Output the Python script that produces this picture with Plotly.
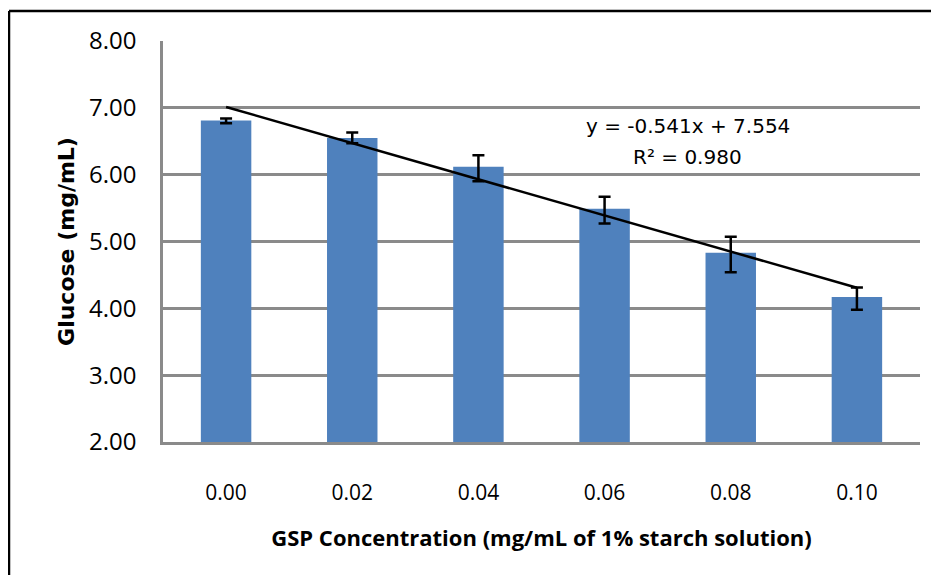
import plotly.graph_objects as go

categories = ["0.00", "0.02", "0.04", "0.06", "0.08", "0.10"]
glucose = [6.81, 6.55, 6.12, 5.49, 4.83, 4.17]
err_plus = [0.03, 0.08, 0.17, 0.18, 0.24, 0.14]
err_minus = [0.04, 0.08, 0.22, 0.22, 0.29, 0.19]
slope = -0.541
intercept = 7.554
r2 = 0.980
y_ticks = [2, 3, 4, 5, 6, 7, 8]

# page body adds an 8px margin; keep the figure fully inside the window
W, H = 923, 567
L, T = 155, 33
pw, ph = 757, 401
R, B = W - L - pw, H - T - ph

trend_y = [slope * (i + 1) + intercept for i in range(len(categories))]

fig = go.Figure()
fig.add_trace(go.Bar(
    x=categories, y=glucose, width=0.4,
    marker=dict(color="#4f81bd", line=dict(width=0)),
    error_y=dict(type="data", symmetric=False, array=err_plus, arrayminus=err_minus,
                 color="black", thickness=2.5, width=6),
    showlegend=False,
))
fig.add_trace(go.Scatter(
    x=categories, y=trend_y, mode="lines",
    line=dict(color="black", width=2.5), showlegend=False,
))

ann_font = dict(family="DejaVu Sans", size=20, color="black")
fig.add_annotation(x=0.6935, y=6.73, xref="paper", yref="y", xanchor="center",
                   text=f"y = {slope:.3f}x + {intercept:.3f}",
                   showarrow=False, font=ann_font)
fig.add_annotation(x=0.6935, y=6.27, xref="paper", yref="y", xanchor="center",
                   text=f"R² = {r2:.3f}",
                   showarrow=False, font=ann_font)

# outer chart border (top and left edges visible in the frame)
bx = (1 - L) / pw
by = 1 + (T - 3) / ph
fig.add_shape(type="line", xref="paper", yref="paper",
              x0=bx, x1=(W - L) / pw, y0=by, y1=by,
              line=dict(color="black", width=2.5), layer="above")
fig.add_shape(type="line", xref="paper", yref="paper",
              x0=bx, x1=bx, y0=by, y1=-(H - T - ph) / ph,
              line=dict(color="black", width=2.5), layer="above")

fig.update_layout(
    width=W, height=H,
    margin=dict(l=L, r=R, t=T, b=B),
    paper_bgcolor="white", plot_bgcolor="white",
    font=dict(family="Open Sans", size=18, color="black"),
    xaxis=dict(
        type="category", showgrid=False, showline=True, linecolor="#8a8a8a", linewidth=2.5,
        ticks="outside", ticklen=0, ticklabelstandoff=30,
        tickfont=dict(family="Open Sans", size=21),
        title=dict(text="<b>GSP Concentration (mg/mL of 1% starch solution)</b>",
                   font=dict(family="Open Sans", size=22), standoff=26),
    ),
    yaxis=dict(
        range=[2, 8], tickvals=y_ticks, tickformat=".2f",
        showgrid=True, gridcolor="#8a8a8a", gridwidth=2.5,
        showline=True, linecolor="#8a8a8a", linewidth=2.5, zeroline=False,
        ticks="outside", ticklen=0, ticklabelstandoff=19,
        tickfont=dict(family="Open Sans", size=24),
        title=dict(text="<b>Glucose (mg/mL)</b>",
                   font=dict(family="DejaVu Sans", size=22), standoff=9),
    ),
)

fig.write_html(
    "out.html",
    post_script="document.documentElement.style.overflow='hidden';"
                "document.body.style.overflow='hidden';",
)
